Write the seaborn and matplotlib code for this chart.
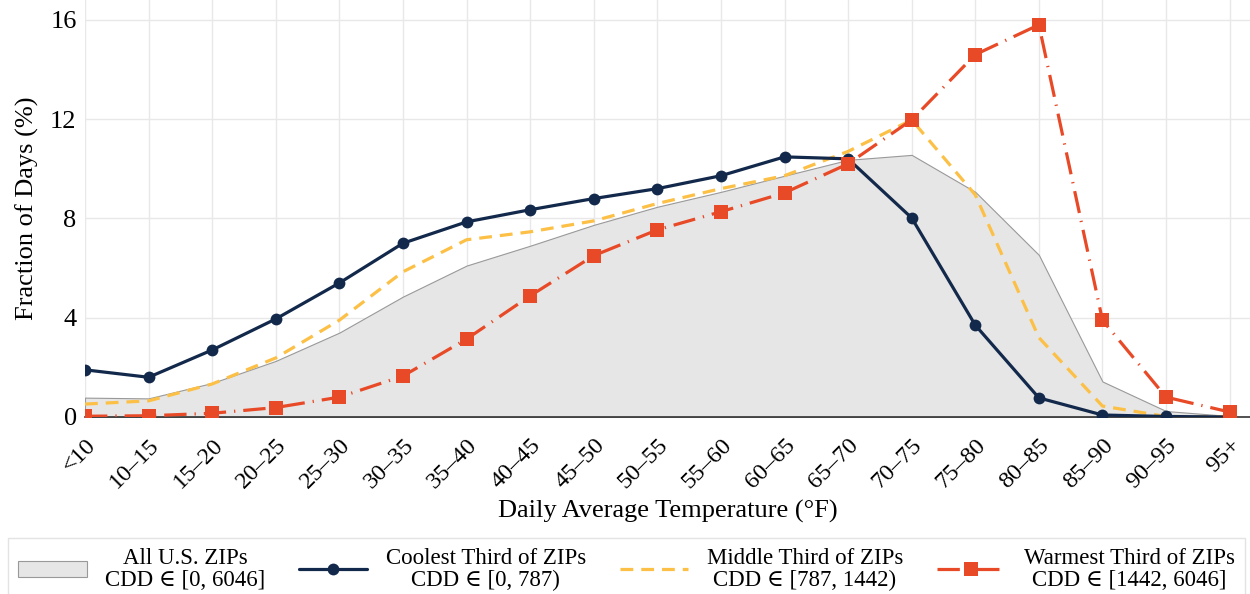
import matplotlib
matplotlib.use("Agg")
import matplotlib.pyplot as plt
import seaborn as sns
import numpy as np
import pandas as pd

categories = ["<10", "10–15", "15–20", "20–25", "25–30", "30–35", "35–40", "40–45",
              "45–50", "50–55", "55–60", "60–65", "65–70", "70–75", "75–80", "80–85",
              "85–90", "90–95", "95+"]
all_zips = [0.78, 0.75, 1.37, 2.26, 3.4, 4.85, 6.1, 6.9, 7.74, 8.47, 9.07, 9.72,
            10.36, 10.56, 9.07, 6.53, 1.43, 0.24, 0.04]
coolest = [1.9, 1.6, 2.7, 3.95, 5.4, 7.0, 7.86, 8.35, 8.8, 9.2, 9.72, 10.48,
           10.4, 8.02, 3.7, 0.77, 0.08, 0.02, 0.0]
middle = [0.52, 0.65, 1.33, 2.38, 3.9, 5.85, 7.14, 7.46, 7.9, 8.6, 9.2, 9.72,
          10.7, 11.97, 8.95, 3.2, 0.44, 0.02, 0.0]
warmest = [0.03, 0.05, 0.15, 0.38, 0.8, 1.65, 3.14, 4.88, 6.5, 7.54, 8.27, 9.03,
           10.2, 11.97, 14.6, 15.8, 3.9, 0.8, 0.2]
labels = ["All U.S. ZIPs\nCDD ∈ [0, 6046]", "Coolest Third of ZIPs\nCDD ∈ [0, 787)",
          "Middle Third of ZIPs\nCDD ∈ [787, 1442)", "Warmest Third of ZIPs\nCDD ∈ [1442, 6046]"]
yticks = [0, 4, 8, 12, 16]

sns.set_theme(style="white")
plt.rcParams['font.family'] = ['Liberation Serif', 'DejaVu Serif']
plt.rcParams['text.color'] = 'black'
plt.rcParams['axes.labelcolor'] = 'black'
plt.rcParams['xtick.color'] = 'black'
plt.rcParams['ytick.color'] = 'black'

x = np.arange(len(categories))
df = pd.DataFrame({"x": x, "all": all_zips, "cool": coolest, "mid": middle, "warm": warmest})

fig = plt.figure(figsize=(12.5, 5.94), dpi=100)
ax = fig.add_axes([0.068, 0.298, 0.932, 0.702])

navy = "#13294b"
yellow = "#fcc046"
red = "#e84a27"

ax.fill_between(df["x"], df["all"], 0, facecolor="#e6e6e6", edgecolor="#999999",
                linewidth=0.8, zorder=1, label=labels[0])
sns.lineplot(data=df, x="x", y="cool", ax=ax, color=navy, linewidth=2.3, marker="o",
             markersize=8.5, markeredgewidth=0, label=labels[1], zorder=4)
sns.lineplot(data=df, x="x", y="mid", ax=ax, color=yellow, linewidth=2.3,
             linestyle=(0, (4, 2.5)), label=labels[2], zorder=3)
sns.lineplot(data=df, x="x", y="warm", ax=ax, color=red, linewidth=2.3, marker="s",
             markersize=9.5, markeredgewidth=0, linestyle=(0, (7, 2.5, 0.4, 2.5)),
             label=labels[3], zorder=5)

ax.set_xlim(0, 18.32)
ax.set_ylim(0, 16.8)
ax.set_yticks(yticks)
ax.set_yticklabels([str(v) for v in yticks], fontsize=19)
ax.set_xticks(x)
ax.set_xticklabels(categories, rotation=45, ha="right", rotation_mode="anchor", fontsize=17.5)
ax.grid(True, color="#e8e8e8", linewidth=1)
ax.set_axisbelow(True)
for s in ["top", "right", "left"]:
    ax.spines[s].set_visible(False)
ax.spines["bottom"].set_color("#333333")
ax.spines["bottom"].set_linewidth(1.2)
ax.tick_params(axis="x", direction="out", length=6, width=1.2, color="#333333", pad=7)
ax.tick_params(axis="y", length=0, pad=6)
ax.set_xlabel("Daily Average Temperature (°F)", fontsize=19, labelpad=5)
ax.set_ylabel("Fraction of Days (%)", fontsize=19, labelpad=8)

if ax.get_legend():
    ax.get_legend().remove()
handles, labs = ax.get_legend_handles_labels()
leg = fig.legend(handles, labs, loc="lower center", ncol=4,
                 fontsize=16.5, frameon=True, edgecolor="#dddddd", fancybox=False,
                 handlelength=3.0, columnspacing=2.0, borderpad=0.45, borderaxespad=0,
                 mode="expand", bbox_to_anchor=(0.006, -0.012, 0.99, 0.15),
                 bbox_transform=fig.transFigure)
for t in leg.get_texts():
    t.set_multialignment("center")
    t.set_linespacing(1.05)

fig.savefig("out.png", dpi=100)
